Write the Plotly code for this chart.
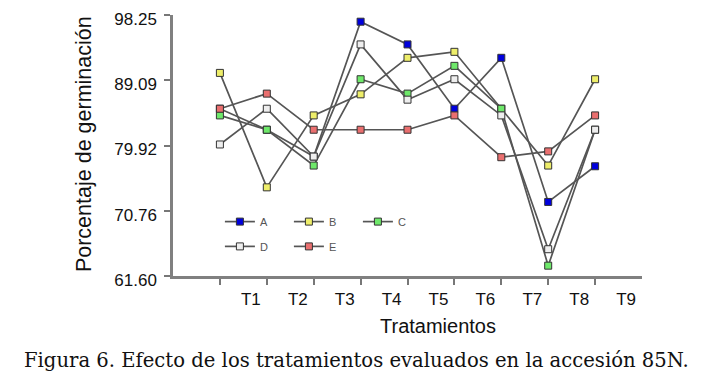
import plotly.graph_objects as go

treatments = ["T1", "T2", "T3", "T4", "T5", "T6", "T7", "T8", "T9"]
x_pos = [1, 2, 3, 4, 5, 6, 7, 8, 9]

serie_A = [85.09, 82.14, 78.37, 97.31, 94.12, 85.09, 92.24, 72.00, 77.01]
serie_B = [90.12, 74.05, 84.15, 87.11, 92.24, 93.08, 85.09, 77.11, 89.23]
serie_C = [84.15, 82.14, 77.11, 89.23, 87.21, 91.11, 85.09, 63.05, 82.14]
serie_D = [80.07, 85.09, 78.37, 94.12, 86.36, 89.23, 84.15, 65.36, 82.14]
serie_E = [85.09, 87.21, 82.14, 82.14, 82.14, 84.15, 78.28, 79.10, 84.15]

y_ticks = [61.60, 70.76, 79.92, 89.09, 98.25]

series = [
    ("A", serie_A, "#0000dd", "legend"),
    ("B", serie_B, "#eeee6a", "legend"),
    ("C", serie_C, "#6ee86a", "legend"),
    ("D", serie_D, "#eeeeee", "legend2"),
    ("E", serie_E, "#ea6f6f", "legend2"),
]

fig = go.Figure()
for name, vals, col, lg in series:
    fig.add_trace(go.Scatter(
        x=x_pos, y=vals, name=name, mode="lines+markers",
        line=dict(color="#555555", width=1.7),
        marker=dict(symbol="square", size=7, color=col,
                    line=dict(color="#333333", width=1)),
        legend=lg,
    ))

axis_font = dict(family="Arial, Liberation Sans, sans-serif", size=17, color="#111111")
leg_font = dict(family="Arial, Liberation Sans, sans-serif", size=11, color="#555555")

# page body has an 8px default margin, compensated in the figure margins
fig.update_layout(
    width=706, height=384,
    margin=dict(l=165, r=72, t=7, b=116),
    paper_bgcolor="white", plot_bgcolor="white",
    showlegend=True,
    xaxis=dict(range=[0, 10], tickvals=x_pos, ticktext=treatments, automargin=False,
               ticks="outside", ticklen=6, tickwidth=2, tickcolor="#777777",
               ticklabelshift=31, ticklabelstandoff=0,
               showline=True, linecolor="#808080", linewidth=2.5,
               showgrid=False, zeroline=False, tickfont=axis_font),
    yaxis=dict(range=[61.60, 98.25], tickvals=y_ticks, tickformat=".2f", automargin=False,
               ticks="outside", ticklen=6, tickwidth=2, tickcolor="#777777",
               ticklabelstandoff=4, ticklabelshift=4, ticklabeloverflow="allow",
               showline=True, linecolor="#808080", linewidth=2.5,
               showgrid=False, zeroline=False, tickfont=axis_font),
    legend=dict(orientation="h", x=0.1, y=0.264, xanchor="left", yanchor="top",
                entrywidth=24, entrywidthmode="pixels", bgcolor="rgba(0,0,0,0)",
                font=leg_font, tracegroupgap=0),
    legend2=dict(orientation="h", x=0.1, y=0.169, xanchor="left", yanchor="top",
                 entrywidth=24, entrywidthmode="pixels", bgcolor="rgba(0,0,0,0)",
                 font=leg_font, tracegroupgap=0),
    annotations=[
        dict(text="Tratamientos", xref="paper", yref="paper", x=0.565, y=-0.19,
             xanchor="center", yanchor="middle", showarrow=False,
             font=dict(family="Arial, Liberation Sans, sans-serif", size=20, color="#111111")),
        dict(text="Porcentaje de germinación", xref="paper", yref="paper",
             x=-0.19, y=0.505, textangle=-90, xanchor="center", yanchor="middle",
             showarrow=False,
             font=dict(family="Arial, Liberation Sans, sans-serif", size=21.5, color="#111111")),
        dict(text="Figura 6. Efecto de los tratamientos evaluados en la accesión 85N.",
             xref="paper", yref="paper", x=0.391, y=-0.322, xanchor="center", yanchor="middle",
             showarrow=False,
             font=dict(family="DejaVu Serif, serif", size=19.6, color="#111111")),
    ],
)

fig.write_html("out.html")
